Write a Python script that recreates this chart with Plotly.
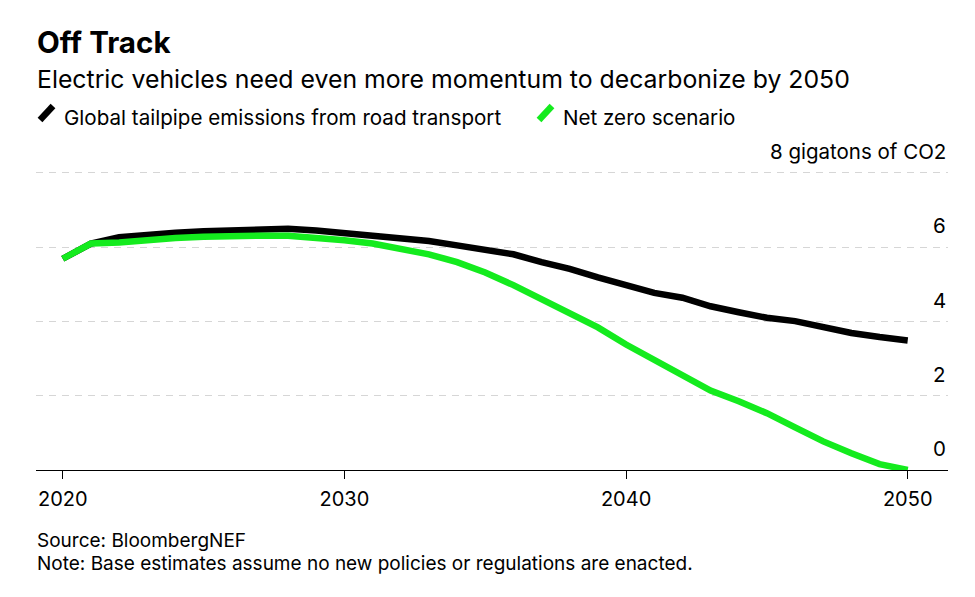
import plotly.graph_objects as go

years = list(range(2020, 2051))
tailpipe = [5.69, 6.10, 6.27, 6.35, 6.39, 6.43, 6.46, 6.50, 6.50, 6.45,
            6.39, 6.33, 6.26, 6.17, 6.05, 5.92, 5.81, 5.60, 5.42, 5.19,
            4.98, 4.77, 4.64, 4.41, 4.25, 4.10, 4.01, 3.83, 3.69, 3.58, 3.49]
net_zero = [5.69, 6.10, 6.13, 6.20, 6.25, 6.28, 6.31, 6.31, 6.31, 6.27,
            6.19, 6.10, 5.96, 5.81, 5.60, 5.32, 4.98, 4.60, 4.22, 3.84,
            3.38, 2.97, 2.57, 2.14, 1.85, 1.53, 1.15, 0.77, 0.45, 0.16, 0.0]
series_names = ["Global tailpipe emissions from road transport", "Net zero scenario"]
series_colors = ["#000000", "#14eb1e"]
y_ticks = [0, 2, 4, 6, 8]
y_tick_labels = ["0", "2", "4", "6", "8 gigatons of CO2"]
x_ticks = [2020, 2030, 2040, 2050]

W, H = 975, 597
OFF = 8  # page body margin
L, R, T, B = 36 - OFF, 948 - OFF, 160 - OFF, 470 - OFF
FONT = "Inter, Liberation Sans, Arial, sans-serif"


def px(x):
    return (x - OFF - L) / (R - L)


def py(y):
    return (B - (y - OFF)) / (B - T)


fig = go.Figure()
for name, vals, col in [(series_names[0], tailpipe, series_colors[0]),
                        (series_names[1], net_zero, series_colors[1])]:
    fig.add_trace(go.Scatter(x=years, y=vals, mode="lines", name=name,
                             line=dict(color=col, width=6.5),
                             showlegend=False, hoverinfo="x+y"))

annotations = []
for v, lab in zip(y_ticks, y_tick_labels):
    annotations.append(dict(x=1, xref="paper", y=v, yref="y", text=lab,
                            showarrow=False, xanchor="right", yanchor="bottom",
                            yshift=7, font=dict(size=20.5, color="#000", family=FONT)))

annotations += [
    dict(x=px(35), y=py(42), xref="paper", yref="paper", text="<b>Off Track</b>",
         showarrow=False, xanchor="left", yanchor="middle",
         font=dict(size=29.6, color="#000", family=FONT)),
    dict(x=px(35), y=py(79), xref="paper", yref="paper",
         text="Electric vehicles need even more momentum to decarbonize by 2050",
         showarrow=False, xanchor="left", yanchor="middle",
         font=dict(size=24.8, color="#000", family=FONT)),
    dict(x=px(62), y=py(117), xref="paper", yref="paper", text=series_names[0],
         showarrow=False, xanchor="left", yanchor="middle",
         font=dict(size=20.6, color="#000", family=FONT)),
    dict(x=px(561), y=py(117), xref="paper", yref="paper", text=series_names[1],
         showarrow=False, xanchor="left", yanchor="middle",
         font=dict(size=20.6, color="#000", family=FONT)),
    dict(x=px(35), y=py(540), xref="paper", yref="paper", text="Source: BloombergNEF",
         showarrow=False, xanchor="left", yanchor="middle",
         font=dict(size=19, color="#000", family=FONT)),
    dict(x=px(35), y=py(563), xref="paper", yref="paper",
         text="Note: Base estimates assume no new policies or regulations are enacted.",
         showarrow=False, xanchor="left", yanchor="middle",
         font=dict(size=19, color="#000", family=FONT)),
]

shapes = [
    dict(type="line", xref="paper", yref="paper", x0=px(40), y0=py(120), x1=px(53), y1=py(106),
         line=dict(color=series_colors[0], width=6.5)),
    dict(type="line", xref="paper", yref="paper", x0=px(539), y0=py(120), x1=px(552), y1=py(106),
         line=dict(color=series_colors[1], width=6.5)),
]

fig.update_layout(
    width=W, height=H,
    margin=dict(l=L, r=W - R, t=T, b=H - B, pad=0),
    paper_bgcolor="white", plot_bgcolor="white",
    font=dict(family=FONT, color="#000"),
    annotations=annotations, shapes=shapes,
    xaxis=dict(range=[2019.05, 2051.43], tickvals=x_ticks, ticks="outside",
               ticklen=8, tickwidth=1.3, tickcolor="#000", showgrid=False,
               zeroline=False, showline=True, linecolor="#000", linewidth=1.3,
               ticklabelstandoff=3,
               tickfont=dict(size=20, color="#000", family=FONT)),
    yaxis=dict(range=[0, 8.35], tickvals=y_ticks, showticklabels=False,
               showgrid=True, gridcolor="#d6d6d6", gridwidth=1.2, griddash="7px,6px",
               zeroline=False, showline=False),
    showlegend=False,
)

fig.write_html("out.html")
